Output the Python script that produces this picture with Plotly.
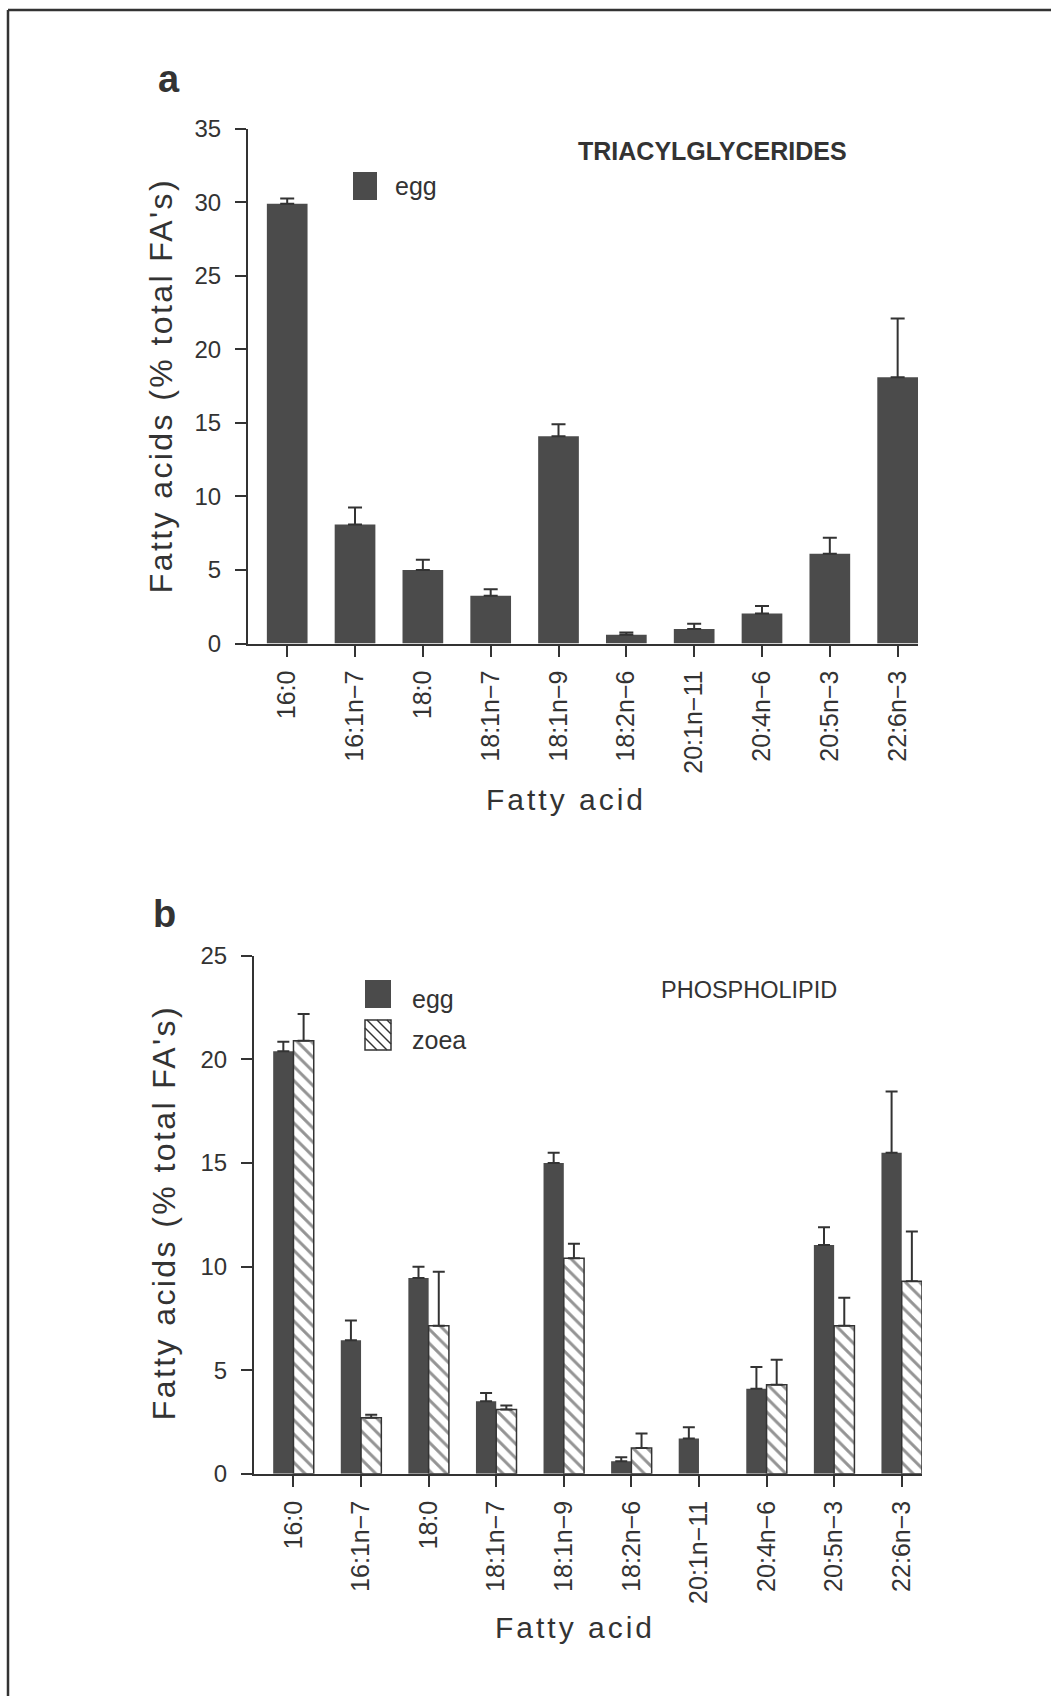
import plotly.graph_objects as go

W, H = 1051, 1696

# Fatty acid categories shared by both panels
acids = ["16:0", "16:1n−7", "18:0", "18:1n−7", "18:1n−9",
         "18:2n−6", "20:1n−11", "20:4n−6", "20:5n−3", "22:6n−3"]

# Panel a: triacylglycerides, egg (mean and upper SE)
tag_egg = [29.9, 8.1, 5.0, 3.25, 14.1, 0.6, 1.0, 2.05, 6.1, 18.1]
tag_egg_err = [0.35, 1.15, 0.7, 0.45, 0.8, 0.15, 0.35, 0.5, 1.1, 4.0]

# Panel b: phospholipid, egg and zoea
pl_egg = [20.4, 6.45, 9.45, 3.5, 15.0, 0.6, 1.7, 4.1, 11.05, 15.5]
pl_egg_err = [0.45, 0.95, 0.55, 0.4, 0.5, 0.2, 0.55, 1.05, 0.85, 2.95]
pl_zoea = [20.9, 2.7, 7.15, 3.1, 10.4, 1.25, None, 4.3, 7.15, 9.3]
pl_zoea_err = [1.3, 0.15, 2.6, 0.2, 0.7, 0.7, None, 1.2, 1.35, 2.4]

INK = "#333333"
BAR = "#4b4b4b"
FONT = "Liberation Sans, Arial, Helvetica, sans-serif"


def fx(px):
    return px / W


def fy(py):
    return 1 - py / H


def upper(err, cap=7):
    return dict(type="data", symmetric=False, array=err,
                arrayminus=[0 if e is not None else None for e in err],
                color=INK, thickness=2, width=cap)


fig = go.Figure()

fig.add_trace(go.Bar(x=acids, y=tag_egg, xaxis="x", yaxis="y", name="egg",
                     marker=dict(color=BAR, line=dict(width=0)),
                     error_y=upper(tag_egg_err)))

fig.add_trace(go.Bar(x=acids, y=pl_egg, xaxis="x2", yaxis="y2", name="egg",
                     marker=dict(color=BAR, line=dict(width=0)),
                     error_y=upper(pl_egg_err, 6)))
fig.add_trace(go.Bar(x=acids, y=pl_zoea, xaxis="x2", yaxis="y2", name="zoea",
                     marker=dict(color="white", line=dict(color=INK, width=1.5),
                                 pattern=dict(shape="\\", fgcolor="#2a2a2a", bgcolor="white",
                                              size=10, solidity=0.3)),
                     error_y=upper(pl_zoea_err, 6)))

xcommon = dict(type="category", showgrid=False, zeroline=False, showline=True,
               linecolor=INK, linewidth=2, ticks="outside", ticklen=11, tickwidth=2,
               tickcolor=INK, tickangle=-90, ticklabelstandoff=4, automargin=False,
               tickfont=dict(family=FONT, size=25, color=INK))
ycommon = dict(showgrid=False, zeroline=False, showline=True, linecolor=INK,
               linewidth=2, ticks="outside", ticklen=11, tickwidth=2, tickcolor=INK,
               dtick=5, ticklabelstandoff=9, automargin=False,
               tickfont=dict(family=FONT, size=24, color=INK))

fig.update_layout(
    width=W, height=H,
    margin=dict(l=0, r=0, t=0, b=0, pad=0, autoexpand=False),
    paper_bgcolor="white", plot_bgcolor="white",
    showlegend=False,
    barmode="group", bargap=0.4, bargroupgap=0,
    xaxis=dict(xcommon, domain=[fx(248), fx(918)], range=[-0.578, 9.30], anchor="y"),
    yaxis=dict(ycommon, domain=[fy(643.6), fy(128.6)], range=[0, 35], anchor="x"),
    xaxis2=dict(xcommon, domain=[fx(254), fx(922)], range=[-0.584, 9.30], anchor="y2"),
    yaxis2=dict(ycommon, domain=[fy(1473.8), fy(955.9)], range=[0, 25], anchor="x2"),
)


def label(text, x, y, size, angle=0, xanchor="center", bold=False):
    fig.add_annotation(text=f"<b>{text}</b>" if bold else text,
                       x=fx(x), y=fy(y), xref="paper", yref="paper",
                       xanchor=xanchor, yanchor="middle", textangle=angle,
                       showarrow=False,
                       font=dict(family=FONT, size=size, color=INK))


# Panel letters and titles
label("a", 168.5, 78.5, 38, bold=True)
label("b", 164, 914, 38, bold=True)
label("TRIACYLGLYCERIDES", 712.5, 151.4, 25, bold=True)
label("PHOSPHOLIPID", 748.5, 990, 23.5)

# Axis titles
label("Fatty acids (% total FA's)", 161, 386, 32, angle=-90)
label("Fatty acids (% total FA's)", 164, 1213, 32, angle=-90)
label("Fatty acid", 566, 799.5, 30)
label("Fatty acid", 574.5, 1627.5, 30)

# Legend keys
label("egg", 393, 186, 25, xanchor="left")
label("egg", 410, 999, 25, xanchor="left")
label("zoea", 410, 1039.6, 25, xanchor="left")


def rect(x0, y0, x1, y1, fill, line_w=0):
    fig.add_shape(type="rect", xref="paper", yref="paper",
                  x0=fx(x0), x1=fx(x1), y0=fy(y1), y1=fy(y0),
                  fillcolor=fill, line=dict(color=INK, width=line_w))


def seg(x0, y0, x1, y1, w=1.5):
    fig.add_shape(type="line", xref="paper", yref="paper",
                  x0=fx(x0), y0=fy(y0), x1=fx(x1), y1=fy(y1),
                  line=dict(color=INK, width=w))


rect(353, 172, 377, 200, BAR)
rect(365, 980, 391, 1008, BAR)
zx0, zy0, zx1, zy1 = 365, 1020, 391, 1050
rect(zx0, zy0, zx1, zy1, "white", 1.5)
# diagonal hatching inside the zoea key, clipped to the square
c = zy0 - zx1 + 4
while c < zy1 - zx0:
    xa = max(zx0, zy0 - c)
    xb = min(zx1, zy1 - c)
    if xb - xa > 2:
        seg(xa, xa + c, xb, xb + c, 1.4)
    c += 10

# Page frame (top and left edges)
seg(8, 10, W, 10, 2.5)
seg(8, 10, 8, H, 2.5)

# Page without body margin; tracked lettering on the axis titles
post = """
document.body.style.margin = '0';
document.body.style.overflow = 'hidden';
document.documentElement.style.overflow = 'hidden';
var spacing = {"Fatty acids (% total FA's)": '2.4px', 'Fatty acid': '3px'};
document.querySelectorAll('text.annotation-text').forEach(function (t) {
  var v = spacing[t.textContent];
  if (v) { t.style.letterSpacing = v; }
});
"""

fig.write_html("out.html", post_script=post)
